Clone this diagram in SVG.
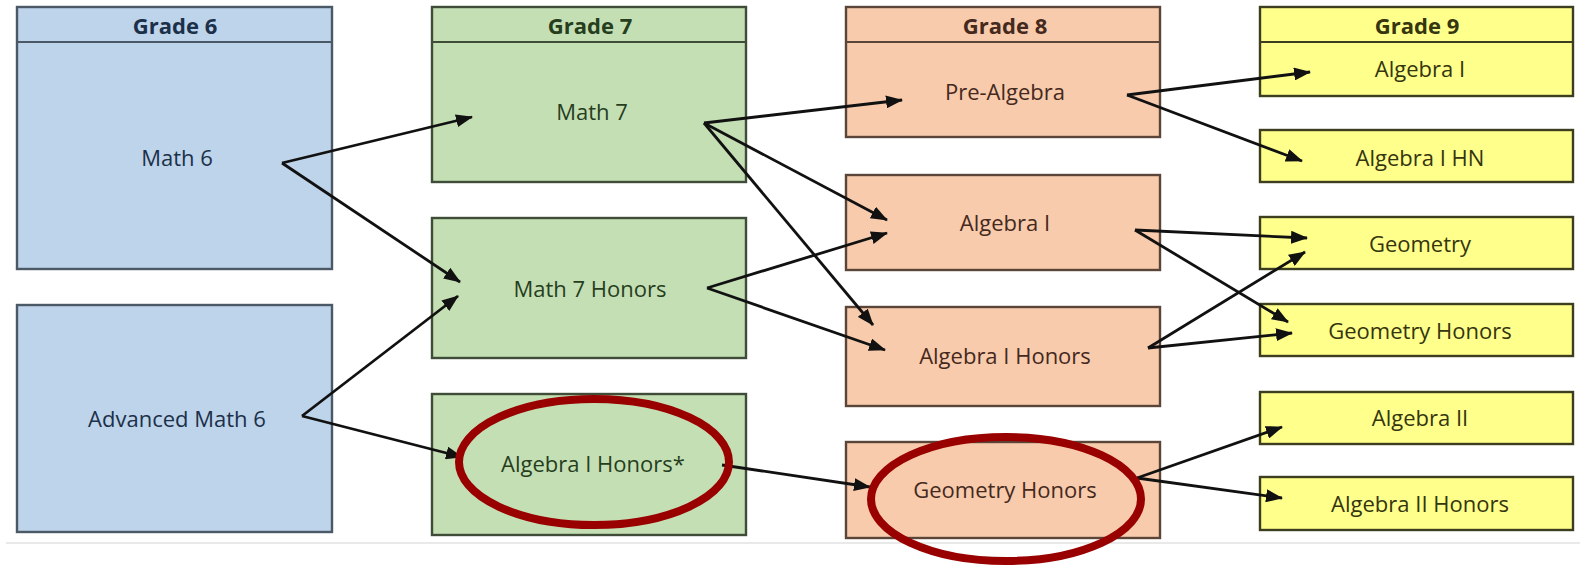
<svg xmlns="http://www.w3.org/2000/svg" width="1580" height="568" viewBox="0 0 1580 568">
<defs>
<style>
.t{font-family:"Open Sans","Liberation Sans",sans-serif;font-size:22px;text-anchor:middle;dominant-baseline:central}
.h{font-weight:bold}
.b6{fill:#bdd4ea;stroke:#4b5866;stroke-width:2.4}
.b7{fill:#c5dfb4;stroke:#3f4c38;stroke-width:2.4}
.b8{fill:#f8cbad;stroke:#5a4538;stroke-width:2.4}
.b9{fill:#ffff8c;stroke:#3d3d20;stroke-width:2.4}
.c6{fill:#1c3049}.c7{fill:#263e1e}.c8{fill:#45291d}.c9{fill:#35350e}
.e{fill:none;stroke:#111;stroke-width:2.8;marker-end:url(#ah)}
.ring{fill:none;stroke:#990000;stroke-width:8}
</style>
<marker id="ah" markerUnits="userSpaceOnUse" markerWidth="17" markerHeight="13" refX="16" refY="6.5" orient="auto">
<path d="M0,0 L17,6.5 L0,13 z" fill="#111"/>
</marker>
</defs>
<rect width="1580" height="568" fill="#fff"/>
<line x1="6" y1="543" x2="1580" y2="543" stroke="#e2e2e2" stroke-width="1.5"/>

<g id="grade6">
<rect class="b6" x="17" y="7" width="315" height="262"/>
<line x1="17" y1="42" x2="332" y2="42" stroke="#4b5866" stroke-width="2"/>
<text class="t h c6" x="175" y="25">Grade 6</text>
<text class="t c6" x="177" y="157">Math 6</text>
</g>
<g id="adv-math6">
<rect class="b6" x="17" y="305" width="315" height="227"/>
<text class="t c6" x="177" y="418">Advanced Math 6</text>
</g>

<g id="grade7">
<rect class="b7" x="432" y="7" width="314" height="175"/>
<line x1="432" y1="42" x2="746" y2="42" stroke="#3f4c38" stroke-width="2"/>
<text class="t h c7" x="590" y="25">Grade 7</text>
<text class="t c7" x="592" y="111">Math 7</text>
</g>
<g id="math7-honors">
<rect class="b7" x="432" y="218" width="314" height="140"/>
<text class="t c7" x="590" y="288">Math 7 Honors</text>
</g>
<g id="alg1-honors-7">
<rect class="b7" x="432" y="394" width="314" height="141"/>
<text class="t c7" x="593" y="463">Algebra I Honors*</text>
</g>

<g id="grade8">
<rect class="b8" x="846" y="7" width="314" height="130"/>
<line x1="846" y1="42" x2="1160" y2="42" stroke="#5a4538" stroke-width="2"/>
<text class="t h c8" x="1005" y="25">Grade 8</text>
<text class="t c8" x="1005" y="91">Pre-Algebra</text>
</g>
<g id="alg1-8">
<rect class="b8" x="846" y="175" width="314" height="95"/>
<text class="t c8" x="1005" y="222">Algebra I</text>
</g>
<g id="alg1-honors-8">
<rect class="b8" x="846" y="307" width="314" height="99"/>
<text class="t c8" x="1005" y="355">Algebra I Honors</text>
</g>
<g id="geom-honors-8">
<rect class="b8" x="846" y="442" width="314" height="96"/>
<text class="t c8" x="1005" y="489">Geometry Honors</text>
</g>

<g id="grade9">
<rect class="b9" x="1260" y="7" width="313" height="89"/>
<line x1="1260" y1="42" x2="1573" y2="42" stroke="#3d3d20" stroke-width="2"/>
<text class="t h c9" x="1417" y="25">Grade 9</text>
<text class="t c9" x="1420" y="68">Algebra I</text>
</g>
<g id="alg1-hn">
<rect class="b9" x="1260" y="130" width="313" height="52"/>
<text class="t c9" x="1420" y="157">Algebra I HN</text>
</g>
<g id="geometry">
<rect class="b9" x="1260" y="217" width="313" height="52"/>
<text class="t c9" x="1420" y="243">Geometry</text>
</g>
<g id="geom-honors-9">
<rect class="b9" x="1260" y="304" width="313" height="52"/>
<text class="t c9" x="1420" y="330">Geometry Honors</text>
</g>
<g id="alg2">
<rect class="b9" x="1260" y="392" width="313" height="52"/>
<text class="t c9" x="1420" y="417">Algebra II</text>
</g>
<g id="alg2-honors">
<rect class="b9" x="1260" y="477" width="313" height="53"/>
<text class="t c9" x="1420" y="503">Algebra II Honors</text>
</g>

<g id="connectors">
<line class="e" x1="282" y1="163" x2="472" y2="117"/>
<line class="e" x1="282" y1="163" x2="460" y2="282"/>
<line class="e" x1="302" y1="416" x2="458" y2="296"/>
<line class="e" x1="302" y1="416" x2="462" y2="457"/>
<line class="e" x1="704" y1="123" x2="902" y2="100"/>
<line class="e" x1="704" y1="123" x2="887" y2="220"/>
<line class="e" x1="704" y1="123" x2="873" y2="325"/>
<line class="e" x1="707" y1="288" x2="887" y2="233"/>
<line class="e" x1="707" y1="288" x2="885" y2="350"/>
<line class="e" x1="722" y1="465" x2="870" y2="487"/>
<line class="e" x1="1127" y1="95" x2="1310" y2="72"/>
<line class="e" x1="1127" y1="95" x2="1302" y2="161"/>
<line class="e" x1="1135" y1="230" x2="1307" y2="238"/>
<line class="e" x1="1135" y1="230" x2="1288" y2="322"/>
<line class="e" x1="1148" y1="348" x2="1305" y2="252"/>
<line class="e" x1="1148" y1="348" x2="1292" y2="333"/>
<line class="e" x1="1137" y1="478" x2="1282" y2="427"/>
<line class="e" x1="1137" y1="478" x2="1282" y2="498"/>
</g>

<g id="highlights">
<ellipse class="ring" cx="594" cy="462" rx="135" ry="63"/>
<ellipse class="ring" cx="1006" cy="499" rx="135" ry="62"/>
</g>
</svg>
